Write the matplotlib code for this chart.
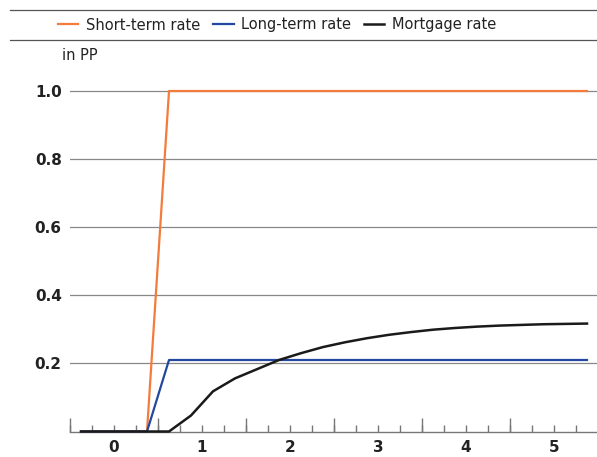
import matplotlib.pyplot as plt
import numpy as np
from matplotlib.lines import Line2D

# quarterly steps, plotted at quarter midpoints (years)
quarters = np.arange(24)
x_years = -0.375 + 0.25 * quarters

short_rate = [0, 0, 0, 0] + [1.0] * 20
long_rate = [0, 0, 0, 0] + [0.21] * 20
mortgage_rate = [0, 0, 0, 0, 0, 0.047, 0.118, 0.156, 0.183, 0.21, 0.23, 0.248,
                 0.262, 0.274, 0.284, 0.292, 0.299, 0.304, 0.308, 0.311, 0.313,
                 0.315, 0.316, 0.317]

series_names = ['Short-term rate', 'Long-term rate', 'Mortgage rate']
series_colors = ['#F47B3B', '#2448A0', '#1A1A1A']

y_ticks = [0.2, 0.4, 0.6, 0.8, 1.0]
y_labels = ['0.2', '0.4', '0.6', '0.8', '1.0']
x_ticks = [0, 1, 2, 3, 4, 5]

W, H = 597, 457
fig = plt.figure(figsize=(W / 100, H / 100), dpi=100)
ax = fig.add_axes([70 / W, (H - 431.5) / H, 528 / W, (431.5 - 84.2) / H])

ax.plot(x_years, short_rate, color=series_colors[0], lw=1.6, label=series_names[0], clip_on=False, zorder=3)
ax.plot(x_years, long_rate, color=series_colors[1], lw=1.6, label=series_names[1], clip_on=False, zorder=3)
ax.plot(x_years, mortgage_rate, color=series_colors[2], lw=1.8, label=series_names[2], clip_on=False, zorder=4)

ax.set_xlim(-0.5, 5.5)
ax.set_ylim(0, 1.02)

for s in ['top', 'right', 'left']:
    ax.spines[s].set_visible(False)
ax.spines['bottom'].set_color('#777777')
ax.spines['bottom'].set_linewidth(1.0)

ax.set_yticks(y_ticks)
ax.set_yticklabels(y_labels, fontsize=11, fontweight='bold', color='#222222')
ax.tick_params(axis='y', length=0, pad=6)
ax.yaxis.grid(True, color='#888888', lw=0.9)
ax.set_axisbelow(True)

ax.set_xticks(x_ticks)
ax.set_xticklabels([str(t) for t in x_ticks], fontsize=11, fontweight='bold', color='#222222')
ax.set_xticks(np.arange(-0.5, 5.51, 0.25), minor=True)
ax.tick_params(axis='x', which='both', direction='in', length=5, color='#777777', width=1.0)
ax.tick_params(axis='x', which='major', pad=6)

sec = ax.secondary_xaxis('bottom')
sec.set_xticks(np.arange(-0.5, 5.51, 1.0))
sec.set_xticklabels([])
sec.tick_params(direction='in', length=10, color='#777777', width=1.0)
sec.spines['bottom'].set_visible(False)

# header rules
fig.add_artist(Line2D([10 / W, 1], [(H - 10) / H] * 2, color='#555555', lw=0.9))
fig.add_artist(Line2D([10 / W, 1], [(H - 40) / H] * 2, color='#555555', lw=0.9))

fig.legend(loc='center left', bbox_to_anchor=(58 / W, (H - 25) / H), ncol=3, frameon=False,
           fontsize=10.5, handlelength=1.4, handletextpad=0.5, columnspacing=0.9,
           borderpad=0, borderaxespad=0, labelcolor='#222222')

fig.text(62 / W, (H - 55) / H, 'in PP', fontsize=10.5, color='#222222', va='center', ha='left')

fig.savefig('out.png', dpi=100)
